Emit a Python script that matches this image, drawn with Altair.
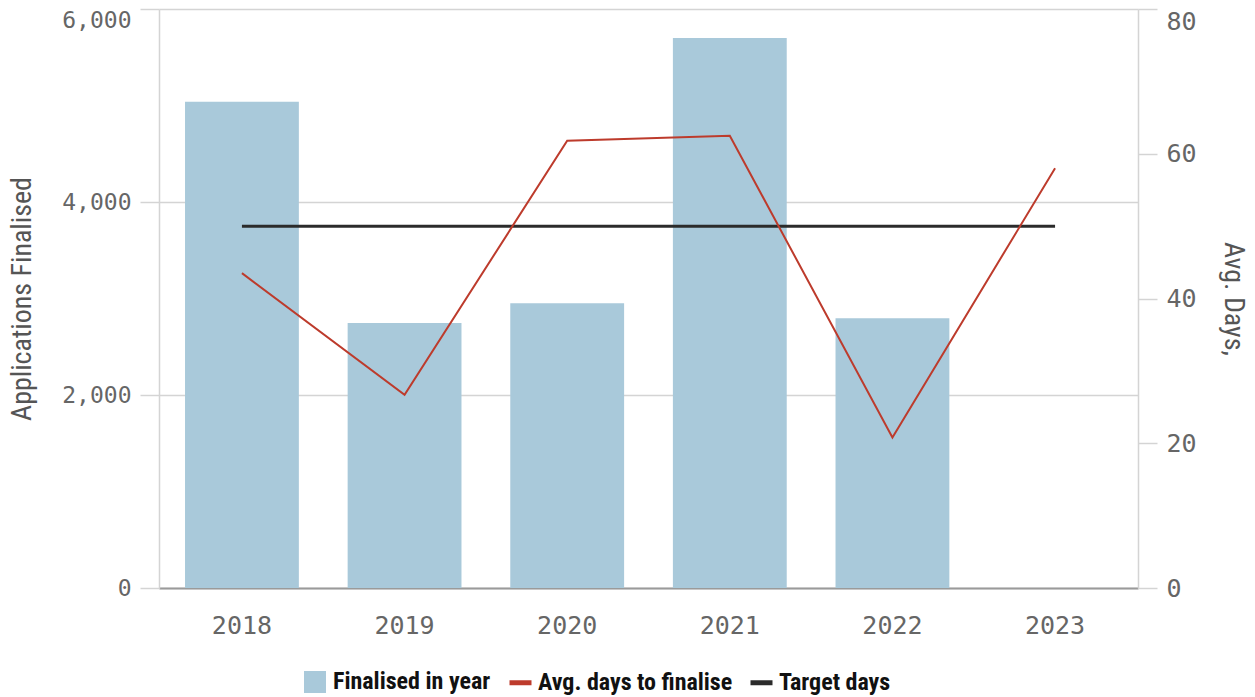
import altair as alt
import pandas as pd

years = ["2018", "2019", "2020", "2021", "2022", "2023"]
finalised = [5040, 2745, 2950, 5700, 2795, None]
avg_days = [43.5, 26.7, 61.8, 62.5, 20.8, 58.0]
target_days = [50, 50, 50, 50, 50, 50]

bar_df = pd.DataFrame({"year": years, "value": finalised, "series": "Finalised in year"})
avg_df = pd.DataFrame({"year": years, "days": avg_days, "series": "Avg. days to finalise"})
tgt_df = pd.DataFrame({"year": years, "days": target_days, "series": "Target days"})

MONO = "DejaVu Sans Mono"
COND = "Liberation Sans Narrow, Roboto Condensed, DejaVu Sans Condensed, sans-serif"
GRID = "#d4d4d4"

x_enc = alt.X(
    "year:N",
    scale=alt.Scale(paddingInner=0.3, paddingOuter=0.16),
    axis=alt.Axis(
        title=None, labelAngle=0, ticks=False, domainColor="#9a9a9a", domainWidth=2,
        labelPadding=25, labelFont=MONO, labelFontSize=25, labelColor="#666666",
    ),
)

left_axis = alt.Axis(
    values=[0, 2000, 4000, 6000], labelExpr="format(datum.value, ',')",
    title="Applications Finalised",
    grid=True, gridColor=GRID, gridWidth=1.5,
    domainColor=GRID, domainWidth=1.5, tickColor=GRID, tickWidth=1.5, tickSize=19,
    labelPadding=9, labelFont=MONO, labelFontSize=23, labelColor="#666666",
    labelBaseline={"condition": {"test": "datum.value == 6000", "value": "top"}, "value": "middle"},
    titleFont=COND, titleFontSize=28, titleFontWeight="normal", titleColor="#555555",
    titlePadding=25,
)

right_axis = alt.Axis(
    orient="right", values=[0, 20, 40, 60, 80], title="Avg. Days,", grid=False,
    domainColor=GRID, domainWidth=1.5, tickColor=GRID, tickWidth=1.5, tickSize=19,
    labelPadding=9, labelFont=MONO, labelFontSize=25, labelColor="#666666",
    labelBaseline={"condition": {"test": "datum.value == 80", "value": "top"}, "value": "middle"},
    titleFont=COND, titleFontSize=28, titleFontWeight="normal", titleColor="#555555",
    titlePadding=22,
)

bars = alt.Chart(bar_df).mark_bar().encode(
    x=x_enc,
    y=alt.Y("value:Q", scale=alt.Scale(domain=[0, 6000]), axis=left_axis),
    fill=alt.Fill(
        "series:N",
        scale=alt.Scale(domain=["Finalised in year"], range=["#a9c9da"]),
        legend=alt.Legend(
            title=None, orient="none", legendX=144, legendY=661, padding=0,
            symbolType="square", symbolSize=484, symbolStrokeWidth=0,
            labelFont=COND, labelFontSize=24, labelFontWeight="bold", labelColor="#111111",
            labelOffset=6, labelLimit=400,
        ),
    ),
)

stroke_scale = alt.Scale(domain=["Avg. days to finalise", "Target days"], range=["#bd3b2c", "#2b2b2b"])
stroke_legend = alt.Legend(
    title=None, orient="none", legendX=348, legendY=660, padding=0, direction="horizontal",
    symbolType="stroke", symbolSize=484, symbolStrokeWidth=5,
    labelFont=COND, labelFontSize=24, labelFontWeight="bold", labelColor="#111111",
    labelOffset=4, columnPadding=7, labelLimit=400,
)

tgt_line = alt.Chart(tgt_df).mark_line(strokeWidth=3).encode(
    x=x_enc,
    y=alt.Y("days:Q", scale=alt.Scale(domain=[0, 80]), axis=right_axis),
    stroke=alt.Stroke("series:N", scale=stroke_scale, legend=stroke_legend),
)

avg_line = alt.Chart(avg_df).mark_line(strokeWidth=2).encode(
    x=x_enc,
    y=alt.Y("days:Q", scale=alt.Scale(domain=[0, 80]), axis=right_axis),
    stroke=alt.Stroke("series:N", scale=stroke_scale, legend=stroke_legend),
)

chart = (
    alt.layer(bars, alt.layer(tgt_line, avg_line))
    .resolve_scale(y="independent")
    .properties(width=979, height=579, padding=0)
    .configure_view(stroke=None)
)

chart.save("out.html", embed_options={"renderer": "svg", "actions": False})
